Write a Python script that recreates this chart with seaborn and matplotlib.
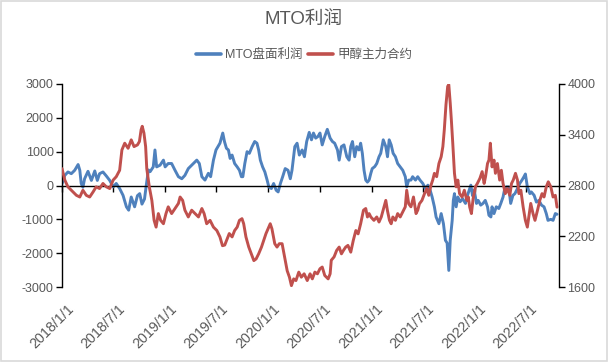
import numpy as np
import pandas as pd
import matplotlib
matplotlib.use("Agg")
import matplotlib.pyplot as plt
import matplotlib.transforms as mtransforms
import seaborn as sns

# ---------------- data ----------------
title = "MTO利润"
series_names = ["MTO盘面利润", "甲醇主力合约"]
start_date = "2018-01-01"

# MTO margin (left axis): day offsets from start_date and values
blue_days = [0, 10, 21, 33, 45, 57, 63, 68, 74, 80,
             92, 104, 116, 125, 133, 145, 157, 169, 181, 192,
             204, 216, 228, 236, 245, 257, 267, 275, 283, 292,
             299, 306, 312, 323, 329, 335, 347, 359, 365, 376,
             388, 400, 412, 424, 435, 447, 459, 477, 486, 495,
             506, 518, 526, 536, 545, 559, 569, 575, 582, 589,
             595, 602, 611, 620, 628, 635, 640, 647, 655, 663,
             673, 682, 690, 696, 702, 710, 718, 726, 732, 741,
             749, 758, 765, 773, 781, 790, 800, 808, 814, 824,
             832, 840, 850, 858, 866, 875, 883, 890, 898, 906,
             913, 921, 930, 939, 949, 957, 965, 975, 981, 989,
             998, 1008, 1016, 1022, 1028, 1036, 1043, 1051, 1057, 1063,
             1069, 1075, 1081, 1087, 1093, 1098, 1107, 1114, 1122, 1128,
             1137, 1146, 1152, 1158, 1165, 1172, 1180, 1188, 1197, 1206,
             1215, 1220, 1227, 1235, 1241, 1251, 1259, 1267, 1277, 1286,
             1295, 1303, 1310, 1318, 1324, 1334, 1342, 1350, 1357, 1363,
             1369, 1374, 1381, 1385, 1389, 1395, 1401, 1409, 1418, 1428,
             1436, 1447, 1453, 1459, 1467, 1473, 1482, 1490, 1498, 1506,
             1511, 1518, 1522, 1529, 1537, 1546, 1553, 1561, 1567, 1573,
             1581, 1588, 1596, 1603, 1612, 1620, 1628, 1635, 1640, 1647,
             1656, 1661, 1671, 1679, 1688, 1697, 1706, 1714, 1720, 1730,
             1738, 1746, 1752]
blue_vals = [50, 300, 400, 350, 450, 620, 450, 60, -50, 200,
             420, 150, 430, 150, 350, 400, 280, 150, -40, 60,
             -90, -290, -630, -730, -340, -630, -300, -240, -550, -400,
             50, 460, 410, 550, 1050, 550, 600, 750, 550, 650,
             650, 450, 260, 200, 300, 500, 600, 750, 650, 260,
             160, 360, 260, 750, 1050, 1250, 1550, 1300, 1100, 1050,
             800, 900, 650, 550, 450, 260, 260, 650, 1000, 950,
             1150, 1300, 1250, 1050, 750, 550, 400, 160, -40, -90,
             60, -140, -190, 60, 260, 500, 450, 200, 450, 1150,
             1250, 900, 1050, 850, 1300, 1570, 1350, 1550, 1400, 1450,
             1550, 1200, 1450, 1660, 1400, 1300, 1250, 1050, 750, 1150,
             1200, 850, 750, 1150, 1300, 850, 1150, 1050, 1250, 950,
             450, 160, 100, 160, 360, 500, 560, 650, 850, 950,
             1350, 1150, 850, 1350, 1200, 950, 850, 650, 550, 450,
             260, -40, 160, 160, 260, 160, 260, 160, 60, -90,
             10, -140, -340, -630, -930, -1130, -830, -1130, -1620, -1700,
             -2510, -1620, -1030, -440, -240, -630, -340, -480, -390, -530,
             -270, 10, -300, -140, -530, -440, -580, -530, -440, -630,
             -880, -930, -630, -830, -630, -680, -530, -340, -90, -40,
             -40, -530, -290, -240, -90, 60, 160, 260, 340, -40,
             -240, -190, -290, -490, -440, -580, -630, -830, -1030, -1000,
             -1030, -830, -850]

# Methanol main contract (right axis)
red_days = [0, 10, 21, 33, 51, 63, 74, 86, 98, 110,
            121, 133, 145, 157, 169, 181, 192, 204, 212, 222,
            234, 245, 255, 267, 274, 280, 284, 290, 296, 300,
            309, 318, 326, 333, 341, 349, 359, 368, 376, 388,
            400, 412, 418, 427, 435, 447, 459, 471, 483, 495,
            503, 512, 524, 536, 548, 559, 568, 576, 585, 592,
            602, 611, 620, 628, 637, 643, 651, 661, 670, 679,
            687, 696, 706, 714, 722, 732, 737, 743, 753, 761,
            769, 779, 788, 797, 805, 812, 820, 828, 838, 847,
            857, 868, 878, 886, 895, 904, 913, 921, 930, 942,
            949, 953, 963, 972, 981, 989, 996, 1004, 1012, 1022,
            1031, 1040, 1048, 1057, 1067, 1075, 1081, 1087, 1093, 1104,
            1114, 1122, 1130, 1140, 1146, 1152, 1159, 1165, 1171, 1180,
            1188, 1197, 1206, 1215, 1220, 1227, 1235, 1244, 1253, 1259,
            1265, 1274, 1283, 1291, 1298, 1306, 1312, 1318, 1326, 1334,
            1342, 1348, 1353, 1359, 1365, 1369, 1374, 1378, 1383, 1389,
            1395, 1401, 1407, 1416, 1424, 1433, 1438, 1443, 1449, 1455,
            1463, 1470, 1479, 1487, 1494, 1499, 1506, 1511, 1516, 1522,
            1529, 1534, 1541, 1549, 1555, 1561, 1569, 1576, 1585, 1591,
            1597, 1605, 1612, 1617, 1624, 1632, 1640, 1647, 1652, 1659,
            1667, 1674, 1683, 1691, 1699, 1706, 1714, 1721, 1730, 1738,
            1746, 1752]
red_vals = [3000, 2864, 2784, 2744, 2684, 2664, 2744, 2684, 2664, 2724,
            2784, 2764, 2824, 2784, 2764, 2864, 2904, 2980, 3220, 3300,
            3240, 3340, 3260, 3280, 3320, 3460, 3500, 3420, 3260, 3000,
            2784, 2624, 2388, 2308, 2468, 2388, 2348, 2468, 2548, 2468,
            2528, 2588, 2664, 2624, 2508, 2428, 2508, 2468, 2428, 2528,
            2468, 2348, 2388, 2308, 2268, 2192, 2088, 2096, 2172, 2232,
            2192, 2268, 2308, 2388, 2408, 2348, 2192, 2072, 1992, 1912,
            1932, 1992, 2072, 2152, 2232, 2308, 2348, 2288, 2112, 2072,
            2112, 2112, 1952, 1792, 1716, 1616, 1696, 1676, 1776, 1716,
            1756, 1676, 1756, 1696, 1776, 1756, 1816, 1836, 1736, 1696,
            1756, 1916, 1956, 2032, 2072, 1992, 2032, 2072, 2092, 2012,
            2152, 2268, 2228, 2348, 2508, 2528, 2428, 2468, 2428, 2388,
            2428, 2368, 2428, 2548, 2624, 2500, 2388, 2348, 2428, 2388,
            2468, 2428, 2488, 2548, 2744, 2584, 2548, 2664, 2468, 2508,
            2584, 2624, 2704, 2764, 2684, 2804, 2864, 2944, 2904, 3060,
            3140, 3260, 3456, 3756, 3972, 3992, 3776, 3576, 3300, 2944,
            2784, 2864, 2704, 2664, 2744, 2624, 2664, 2544, 2468, 2644,
            2784, 2824, 2884, 2964, 2824, 2904, 3060, 3100, 3300, 3020,
            3100, 2944, 3060, 2864, 2980, 2824, 2704, 2764, 2684, 2824,
            2864, 2944, 2864, 2704, 2744, 2548, 2388, 2308, 2428, 2588,
            2468, 2388, 2508, 2624, 2704, 2664, 2784, 2844, 2784, 2664,
            2684, 2544]

x_tick_labels = ["2018/1/1", "2018/7/1", "2019/1/1", "2019/7/1", "2020/1/1",
                 "2020/7/1", "2021/1/1", "2021/7/1", "2022/1/1", "2022/7/1"]
left_ticks = [-3000, -2000, -1000, 0, 1000, 2000, 3000]
right_ticks = [1600, 2200, 2800, 3400, 4000]
x_end_days = 1759

# ---------------- styling ----------------
BLUE = "#4F81BD"
RED = "#C0504D"
TXT = "#595959"

sns.set_theme(style="white")
plt.rcParams["font.family"] = ["Liberation Sans", "Noto Sans CJK SC", "DejaVu Sans"]

start = pd.Timestamp(start_date)
blue_df = pd.DataFrame({"date": start + pd.to_timedelta(blue_days, unit="D"),
                        "value": blue_vals})
red_df = pd.DataFrame({"date": start + pd.to_timedelta(red_days, unit="D"),
                       "value": red_vals})

fig = plt.figure(figsize=(6.08, 3.62), dpi=100)
fig.patch.set_facecolor("white")
ax = fig.add_axes([62 / 608, 1 - 287 / 362, (559 - 62) / 608, (287 - 84) / 362])
ax.set_facecolor("none")

sns.lineplot(data=blue_df, x="date", y="value", ax=ax, color=BLUE, lw=2.1,
             legend=False)
ax2 = ax.twinx()
sns.lineplot(data=red_df, x="date", y="value", ax=ax2, color=RED, lw=2.1,
             legend=False)

ax.set_xlim(start, start + pd.Timedelta(days=x_end_days))
ax.set_ylim(left_ticks[0], left_ticks[-1])
ax2.set_ylim(right_ticks[0], right_ticks[-1])

tick_dates = [pd.Timestamp(s.replace("/", "-")) for s in x_tick_labels]

# left axis (x-axis line drawn at zero)
for s in ["top", "right"]:
    ax.spines[s].set_visible(False)
ax.spines["left"].set_color("black")
ax.spines["left"].set_linewidth(1.0)
ax.spines["bottom"].set_position(("data", 0))
ax.spines["bottom"].set_color("black")
ax.spines["bottom"].set_linewidth(1.0)
ax.set_yticks(left_ticks)
ax.set_yticklabels([str(v) for v in left_ticks])
ax.tick_params(axis="y", direction="out", length=4, width=1, color="black",
               left=True, labelsize=9, labelcolor=TXT, pad=2)
ax.set_xlabel("")
ax.set_ylabel("")

# right axis
for s in ["top", "left", "bottom"]:
    ax2.spines[s].set_visible(False)
ax2.spines["right"].set_color("black")
ax2.spines["right"].set_linewidth(1.0)
ax2.set_yticks(right_ticks)
ax2.set_yticklabels([str(v) for v in right_ticks])
ax2.tick_params(axis="y", direction="out", length=4, width=1, color="black",
                right=True, labelsize=9, labelcolor=TXT, pad=2)
ax2.set_ylabel("")

# shared x ticks: tick marks on the zero line (ax), labels at the bottom (ax2)
ax2.xaxis.set_visible(True)
ax2.set_xticks(tick_dates)
ax2.set_xticklabels(x_tick_labels, rotation=45, ha="right",
                    rotation_mode="anchor", va="top")
ax2.tick_params(axis="x", length=0, labelsize=10.3, labelcolor=TXT, pad=10.5,
                bottom=True, labelbottom=True)
ax2.set_xlabel("")
ax.tick_params(axis="x", direction="out", length=4, width=1, color="black",
               bottom=True, labelbottom=False)
shift = mtransforms.ScaledTranslation(4.5 / 100, 0, fig.dpi_scale_trans)
for lbl in ax2.get_xticklabels():
    lbl.set_transform(lbl.get_transform() + shift)

# title & legend
fig.text(0.5, 1 - 19 / 362, title, ha="center", va="center", fontsize=13.4,
         color=TXT)
handles = [plt.Line2D([], [], color=BLUE, lw=2.6),
           plt.Line2D([], [], color=RED, lw=2.6)]
leg = fig.legend(handles, series_names, loc="center",
                 bbox_to_anchor=(0.5, 1 - 55 / 362), ncol=2, frameon=False,
                 fontsize=9, handlelength=2.0, handletextpad=0.3,
                 columnspacing=0.5, labelcolor=TXT)

fig.add_artist(plt.Rectangle((0.001, 0.002), 0.997, 0.995,
                             transform=fig.transFigure, fill=False,
                             ec="#D9D9D9", lw=1.2))

fig.savefig("out.png", dpi=100, facecolor="white")
